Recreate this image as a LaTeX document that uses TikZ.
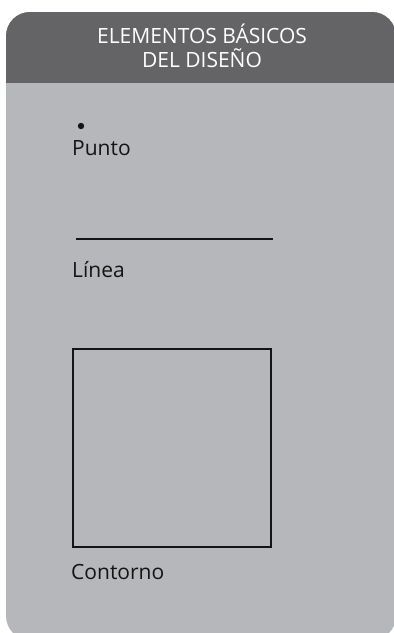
\documentclass[tikz,border=0pt]{standalone}
\usepackage{fontspec}
\setmainfont{Open Sans}
\definecolor{hdr}{HTML}{646466}
\definecolor{bodyc}{HTML}{B6B7BA}
\definecolor{ink}{HTML}{141414}
\tikzset{
  lbl/.style={anchor=base west, inner sep=0pt, text=ink, font=\fontsize{21}{24}\selectfont},
  shapeline/.style={draw=ink, line width=2pt},
}
\begin{document}
\begin{tikzpicture}[x=1pt,y=-1pt]
\useasboundingbox (0,0) rectangle (394,633);
\begin{scope}
  \clip (0,0) rectangle (394,633);
  \path[fill=bodyc, rounded corners=24pt] (6,12) rectangle (396,640);
  \clip[rounded corners=24pt] (6,12) rectangle (396,640);
  \fill[hdr] (0,0) rectangle (396,83);
\end{scope}
\node[align=center, text=white, inner sep=0pt, font=\fontsize{21}{24}\selectfont] (title) at (202,46) {ELEMENTOS BÁSICOS\\DEL DISEÑO};
\fill[ink] (81,126) circle (3.2pt);
\node[lbl] (punto) at (72,155.5) {Punto};
\coordinate (la) at (76,239);
\coordinate (lb) at (273,239);
\draw[shapeline] (la) -- (lb);
\node[lbl] (linea) at (72,277) {Línea};
\node[shapeline, minimum width=198pt, minimum height=198pt, inner sep=0pt, anchor=north west] (sq) at (72,348) {};
\node[lbl] (contorno) at (71,579) {Contorno};
\end{tikzpicture}
\end{document}
